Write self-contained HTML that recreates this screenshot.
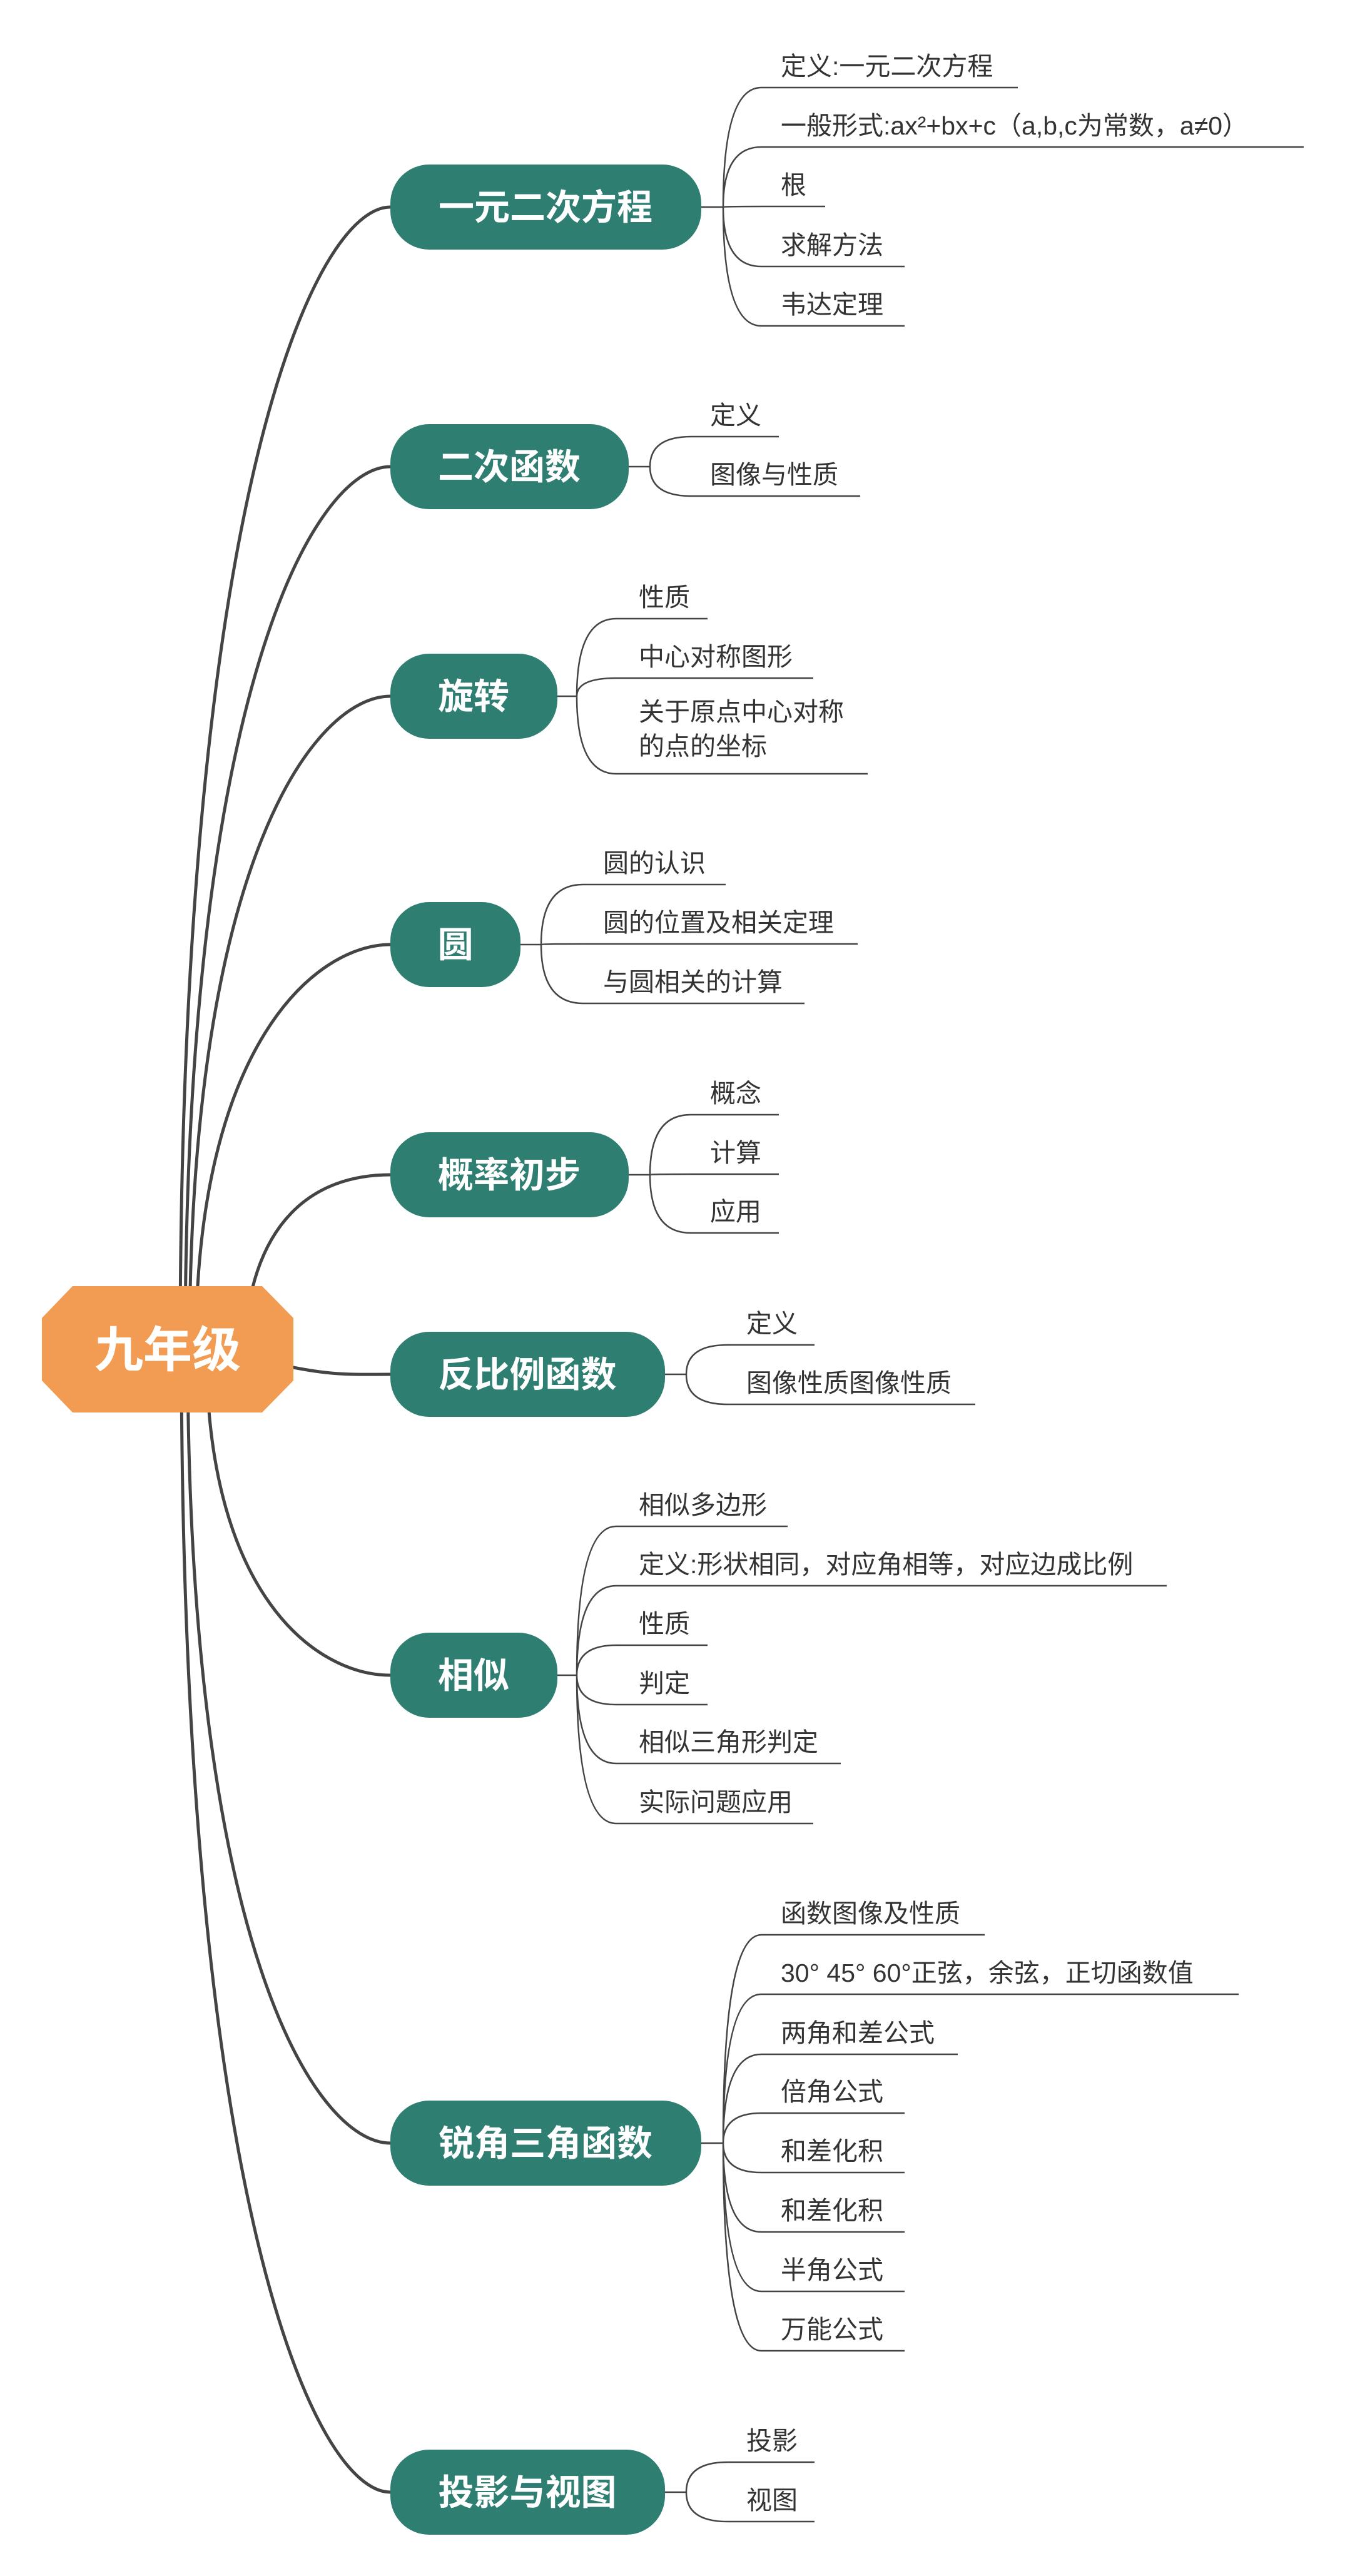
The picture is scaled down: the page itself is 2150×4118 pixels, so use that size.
<!DOCTYPE html>
<html><head><meta charset="utf-8"><style>
html,body{margin:0;padding:0;background:#fff;}
svg{display:block;}
.n{font-family:"Liberation Sans","Noto Sans CJK SC",sans-serif;font-weight:bold;fill:#fff;font-size:57px;}
.c{font-family:"Liberation Sans","Noto Sans CJK SC",sans-serif;fill:#333;font-size:41px;}
</style></head><body>
<svg width="2150" height="4118" viewBox="0 0 2150 4118" xmlns="http://www.w3.org/2000/svg">
<g fill="none" stroke="#444" stroke-width="5">
<path d="M624 331 C504 331,288 787,288 2157"/>
<path d="M624 746 C504 746,296 1099,296 2157"/>
<path d="M624 1113 C504 1113,303 1374,303 2157"/>
<path d="M624 1510 C504 1510,313 1672,313 2157"/>
<path d="M624 1878 C504 1878,400 1948,390 2157"/>
<path d="M440 2180 C530 2200,560 2197,624 2197"/>
<path d="M624 2678 C504 2678,330 2548,330 2157"/>
<path d="M624 3426 C504 3426,300 3109,300 2157"/>
<path d="M624 3984 C504 3984,290 3527,290 2157"/>
</g>
<g fill="none" stroke="#444" stroke-width="2.5">
<path d="M1121 331H1156"/>
<path d="M1156 331Q1156 140 1217 140H1627M1156 331Q1156 235 1217 235H2084M1156 331Q1156 330 1217 330H1319M1156 331Q1156 426 1217 426H1446M1156 331Q1156 521 1217 521H1446"/>
<path d="M1005 746H1039M1039 746Q1039 698 1105 698H1245M1039 746Q1039 793 1105 793H1375"/>
<path d="M891 1113H922M922 1113Q922 989 985 989H1131M922 1113Q922 1084 985 1084H1300M922 1113Q922 1237 985 1237H1387"/>
<path d="M832 1510H865M865 1510Q865 1414 932 1414H1160M865 1510Q865 1509 932 1509H1371M865 1510Q865 1604 932 1604H1286"/>
<path d="M1005 1878H1039M1039 1878Q1039 1782 1104 1782H1245M1039 1878Q1039 1877 1104 1877H1245M1039 1878Q1039 1971 1104 1971H1245"/>
<path d="M1063 2197H1097M1097 2197Q1097 2150 1163 2150H1302M1097 2197Q1097 2245 1163 2245H1559"/>
<path d="M891 2678H922M922 2678Q922 2440 985 2440H1259M922 2678Q922 2535 985 2535H1865M922 2678Q922 2630 985 2630H1131M922 2678Q922 2725 985 2725H1131M922 2678Q922 2819 985 2819H1344M922 2678Q922 2915 985 2915H1300"/>
<path d="M1121 3426H1156M1156 3426Q1156 3093 1217 3093H1574M1156 3426Q1156 3188 1217 3188H1980M1156 3426Q1156 3284 1217 3284H1531M1156 3426Q1156 3378 1217 3378H1446M1156 3426Q1156 3473 1217 3473H1446M1156 3426Q1156 3568 1217 3568H1446M1156 3426Q1156 3663 1217 3663H1446M1156 3426Q1156 3758 1217 3758H1446"/>
<path d="M1063 3984H1097M1097 3984Q1097 3936 1163 3936H1302M1097 3984Q1097 4031 1163 4031H1302"/>
</g>
<polygon points="116,2056 419,2056 469,2107 469,2207 419,2258 116,2258 67,2207 67,2107" fill="#F29B52"/>
<text x="268" y="2185" text-anchor="middle" font-family="Liberation Sans,Noto Sans CJK SC,sans-serif" font-weight="bold" font-size="78" fill="#fff">九年级</text>
<g fill="#2E7E72">
<rect x="624" y="263" width="497" height="136" rx="62"/>
<rect x="624" y="678" width="381" height="136" rx="62"/>
<rect x="624" y="1045" width="267" height="136" rx="62"/>
<rect x="624" y="1442" width="208" height="136" rx="62"/>
<rect x="624" y="1810" width="381" height="136" rx="62"/>
<rect x="624" y="2129" width="439" height="136" rx="62"/>
<rect x="624" y="2610" width="267" height="136" rx="62"/>
<rect x="624" y="3358" width="497" height="136" rx="62"/>
<rect x="624" y="3916" width="439" height="136" rx="62"/>
</g>
<g class="n" text-anchor="middle">
<text x="872" y="351">一元二次方程</text>
<text x="814" y="766">二次函数</text>
<text x="757" y="1133">旋转</text>
<text x="728" y="1530">圆</text>
<text x="814" y="1898">概率初步</text>
<text x="843" y="2217">反比例函数</text>
<text x="757" y="2698">相似</text>
<text x="872" y="3446">锐角三角函数</text>
<text x="843" y="4004">投影与视图</text>
</g>
<g class="c" transform="translate(0,-6)">
<text x="1248" y="126">定义:一元二次方程</text>
<text x="1248" y="221">一般形式:ax²+bx+c（a,b,c为常数，a≠0）</text>
<text x="1248" y="316">根</text>
<text x="1248" y="412">求解方法</text>
<text x="1248" y="507">韦达定理</text>
<text x="1135" y="684">定义</text>
<text x="1135" y="779">图像与性质</text>
<text x="1021" y="975">性质</text>
<text x="1021" y="1070">中心对称图形</text>
<text x="1021" y="1158">关于原点中心对称</text>
<text x="1021" y="1213">的点的坐标</text>
<text x="964" y="1400">圆的认识</text>
<text x="964" y="1495">圆的位置及相关定理</text>
<text x="964" y="1590">与圆相关的计算</text>
<text x="1135" y="1768">概念</text>
<text x="1135" y="1863">计算</text>
<text x="1135" y="1957">应用</text>
<text x="1193" y="2136">定义</text>
<text x="1193" y="2231">图像性质图像性质</text>
<text x="1021" y="2426">相似多边形</text>
<text x="1021" y="2521">定义:形状相同，对应角相等，对应边成比例</text>
<text x="1021" y="2616">性质</text>
<text x="1021" y="2711">判定</text>
<text x="1021" y="2805">相似三角形判定</text>
<text x="1021" y="2901">实际问题应用</text>
<text x="1248" y="3079">函数图像及性质</text>
<text x="1248" y="3174">30° 45° 60°正弦，余弦，正切函数值</text>
<text x="1248" y="3270">两角和差公式</text>
<text x="1248" y="3364">倍角公式</text>
<text x="1248" y="3459">和差化积</text>
<text x="1248" y="3554">和差化积</text>
<text x="1248" y="3649">半角公式</text>
<text x="1248" y="3744">万能公式</text>
<text x="1193" y="3922">投影</text>
<text x="1193" y="4017">视图</text>
</g>
</svg>
</body></html>
